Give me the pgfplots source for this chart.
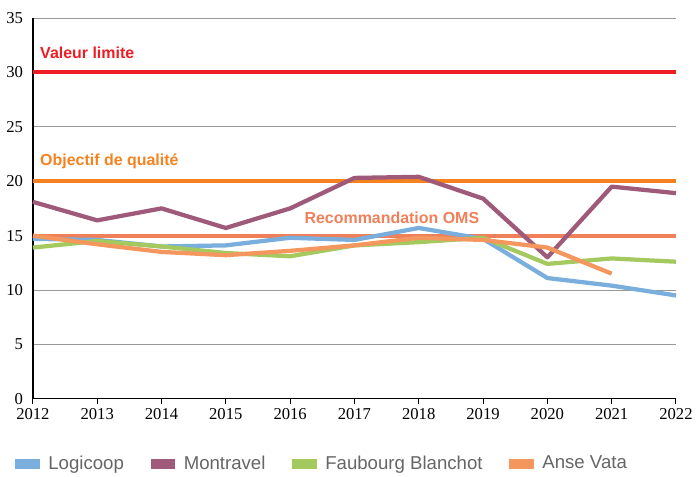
\documentclass[border=0pt]{standalone}
\usepackage{pgfplots}
\pgfplotsset{compat=1.18}
\usepackage{fontspec}
\setmainfont{Liberation Serif}
\newfontfamily\labelfont{Liberation Sans}

\definecolor{cLogi}{HTML}{7AAEDC}
\definecolor{cMont}{HTML}{9E5A78}
\definecolor{cFaub}{HTML}{A3C95F}
\definecolor{cAnse}{HTML}{F4975E}
\definecolor{cLimite}{HTML}{EE1D25}
\definecolor{cObjectif}{HTML}{F5821F}
\definecolor{cOMS}{HTML}{F0805A}

\begin{document}
\begin{tikzpicture}
\begin{axis}[
    scale only axis,
    width=483.75pt,
    height=286.5pt,
    xmin=2012, xmax=2022,
    ymin=0, ymax=35,
    xtick={2012,...,2022},
    ytick={0,5,...,35},
    xticklabel style={/pgf/number format/1000 sep={}},
    /pgf/number format/assume math mode=true,
    tick label style={font=\fontsize{12.5}{14}\selectfont},
    axis x line*=bottom,
    axis y line*=left,
    axis line style={black, line width=1pt},
    x axis line style={-},
    y axis line style={-},
    xtick style={black, line width=0.8pt},
    ytick style={draw=none},
    tick align=outside,
    major tick length=4pt,
    ymajorgrids,
    grid style={gray!80, line width=0.6pt},
    clip=false,
    legend columns=4,
    legend style={at={(-0.028,-0.135)}, anchor=north west, draw=none, inner xsep=0pt,
        font=\labelfont\fontsize{14}{16}\selectfont, text=black!60,
        /tikz/every even column/.append style={column sep=18pt}},
    legend image code/.code={
        \path[draw=none, fill=none] (0pt,-0.1pt) rectangle (23pt,0.1pt);
        \fill[#1, draw=none] (0pt,-3.8pt) rectangle (18.75pt,3.8pt);},
    every axis plot/.append style={line width=3.2pt, line join=round},
]
% reference lines
\addplot[cLimite, line width=3pt, forget plot] coordinates {(2012,30) (2022,30)};
\addplot[cObjectif, line width=3pt, forget plot] coordinates {(2012,20) (2022,20)};
\addplot[cOMS, line width=3pt, forget plot] coordinates {(2012,15) (2022,15)};

\addplot[cLogi] coordinates {
    (2012,14.7) (2013,14.6) (2014,14.0) (2015,14.1) (2016,14.8) (2017,14.6)
    (2018,15.7) (2019,14.7) (2020,11.1) (2021,10.4) (2022,9.5)
};
\addplot[cMont] coordinates {
    (2012,18.1) (2013,16.4) (2014,17.5) (2015,15.7) (2016,17.5) (2017,20.3)
    (2018,20.4) (2019,18.4) (2020,13.0) (2021,19.5) (2022,18.9)
};
\addplot[cFaub] coordinates {
    (2012,13.9) (2013,14.5) (2014,14.0) (2015,13.4) (2016,13.1) (2017,14.1)
    (2018,14.4) (2019,14.8) (2020,12.4) (2021,12.9) (2022,12.6)
};
\addplot[cAnse] coordinates {
    (2012,15.0) (2013,14.2) (2014,13.5) (2015,13.2) (2016,13.6) (2017,14.1)
    (2018,14.8) (2019,14.6) (2020,13.9) (2021,11.5)
};
\legend{Logicoop, Montravel, Faubourg Blanchot, Anse Vata}

\node[anchor=west, text=cLimite, font=\labelfont\bfseries\fontsize{12}{14}\selectfont, inner sep=0pt]
    at (axis cs:2012.11,31.8) {Valeur limite};
\node[anchor=west, text=cObjectif, font=\labelfont\bfseries\fontsize{12}{14}\selectfont, inner sep=0pt]
    at (axis cs:2012.11,21.8) {Objectif de qualité};
\node[anchor=west, text=cOMS, font=\labelfont\bfseries\fontsize{12}{14}\selectfont, inner sep=0pt]
    at (axis cs:2016.22,16.6) {Recommandation OMS};
\end{axis}
\path (current axis.south west) ++(-24.75pt,-54.75pt) coordinate (bbsw);
\path (current axis.north east) ++(14.25pt,13.5pt) coordinate (bbne);
\useasboundingbox (bbsw) rectangle (bbne);
\end{tikzpicture}
\end{document}
